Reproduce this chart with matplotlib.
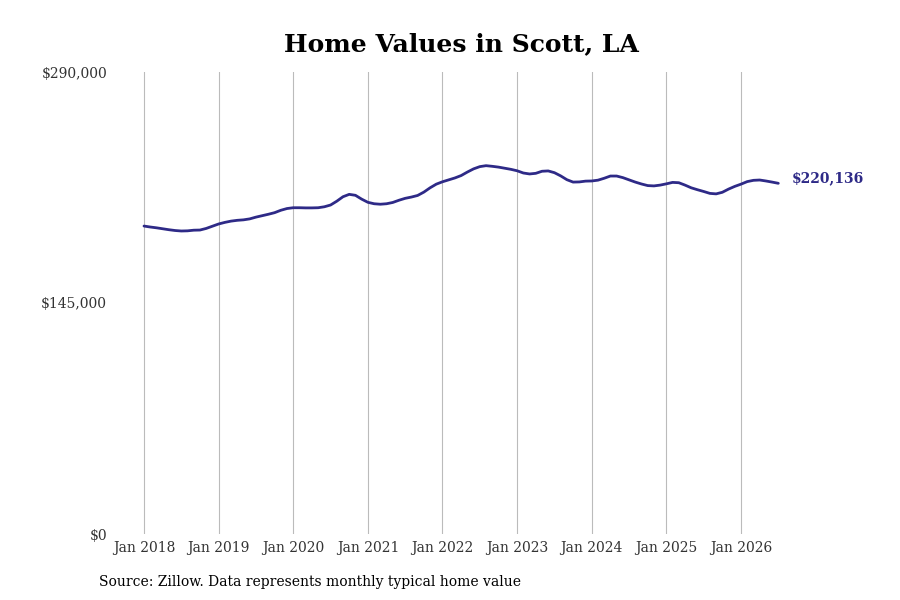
import matplotlib
matplotlib.use("Agg")
import matplotlib.pyplot as plt
import numpy as np

plt.rcParams['font.family'] = ['DejaVu Serif']

years = ["Jan 2018", "Jan 2019", "Jan 2020", "Jan 2021", "Jan 2022",
         "Jan 2023", "Jan 2024", "Jan 2025", "Jan 2026"]

values = [
    193300, 192700, 192200, 191600, 191000, 190500, 190200, 190300, 190700, 190800, 191800, 193200,
    194600, 195600, 196400, 196900, 197200, 197800, 198900, 199800, 200700, 201700, 203200, 204300,
    204800, 204800, 204700, 204700, 204800, 205400, 206500, 208900, 211700, 213200, 212600, 210200,
    208200, 207300, 207000, 207300, 208100, 209500, 210700, 211500, 212500, 214600, 217300, 219600,
    221100, 222300, 223500, 225000, 227200, 229200, 230600, 231200, 230800, 230300, 229600, 228900,
    228000, 226600, 226000, 226400, 227700, 227900, 226800, 224800, 222400, 220900, 221000, 221500,
    221600, 222100, 223300, 224700, 224700, 223700, 222300, 220900, 219700, 218700, 218500, 219000,
    219800, 220700, 220500, 219000, 217300, 216100, 215000, 213800, 213500, 214500, 216500, 218200,
    219600, 221200, 222000, 222200, 221600, 220900, 220136,
]

yticks = [0, 145000, 290000]
ytick_labels = ["$0", "$145,000", "$290,000"]

line_color = "#2e2a87"

fig = plt.figure(figsize=(9, 6), dpi=100)
ax = fig.add_axes([110/900, 66/600, 770/900, 462/600])

months = np.arange(len(values))
ax.plot(months, values, color=line_color, linewidth=2.0, solid_capstyle='round')

ax.set_ylim(0, 290000)
px_per_month = (741 - 144) / 96.0
left = (110 - 144) / px_per_month
right = left + 770 / px_per_month
ax.set_xlim(left, right)

ax.set_xticks(np.arange(len(years)) * 12)
ax.set_xticklabels(years, fontsize=10, color="#333333")
ax.set_yticks(yticks)
ax.set_yticklabels(ytick_labels, fontsize=10, color="#333333")
ax.tick_params(axis='both', length=0)
ax.tick_params(axis='x', pad=5)
ax.tick_params(axis='y', pad=2)

ax.grid(axis='x', color="#bbbbbb", linewidth=0.8)
ax.grid(axis='y', visible=False)
for s in ax.spines.values():
    s.set_visible(False)

ax.annotate(f"${values[-1]:,}", xy=(months[-1], values[-1]), xytext=(10, 3.5),
            textcoords='offset points', fontsize=10, fontweight='bold',
            color=line_color, va='center', ha='left')

fig.text(461/900, 1 - 44/600, "Home Values in Scott, LA", ha='center', va='center',
         fontsize=18, fontweight='bold', color='black')
fig.text(99/900, 1 - 582/600, "Source: Zillow. Data represents monthly typical home value",
         ha='left', va='center', fontsize=10, color='black')

fig.savefig("out.png", dpi=100)
